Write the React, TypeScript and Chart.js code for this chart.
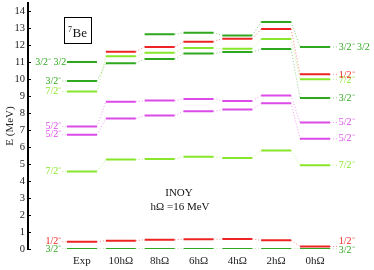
import React, { useEffect, useRef } from "react";
import { Chart, registerables } from "chart.js";

Chart.register(...registerables);

const columns = ["Exp", "10hΩ", "8hΩ", "6hΩ", "4hΩ", "2hΩ", "0hΩ"];
const yTicks = [0, 1, 2, 3, 4, 5, 6, 7, 8, 9, 10, 11, 12, 13, 14];

const ground32 = [0, 0, 0, 0, 0, 0, 0];
const first12 = [0.43, 0.49, 0.55, 0.57, 0.59, 0.51, 0.15];
const first72 = [4.57, 5.27, 5.3, 5.43, 5.36, 5.8, 4.94];
const first52 = [6.73, 7.68, 7.86, 8.11, 8.22, 8.59, 6.49];
const second52 = [7.21, 8.68, 8.74, 8.84, 8.72, 9.04, 7.45];
const second72 = [9.27, 11.35, 11.56, 11.84, 11.8, 12.37, 10.0];
const second32 = [9.9, 10.94, 11.19, 11.51, 11.6, 11.78, 8.9];
const second12 = [null, 11.62, 11.9, 12.21, 12.38, 12.96, 10.29];
const iso32 = [11.01, null, 12.65, 12.74, 12.58, 13.37, 11.9];

const DG = "#2fa81f";
const RD = "#ee2424";
const LG = "#88e62a";
const MG = "#dc4ae8";

const series = [
  { values: ground32, color: DG, left: "3/2⁻", right: "3/2⁻", rdy: 1, ldx: 0, lead: true },
  { values: first12, color: RD, left: "1/2⁻", right: "1/2⁻", rdy: -5, ldx: 0, lead: true },
  { values: first72, color: LG, left: "7/2⁻", right: "7/2⁻", rdy: 0, ldx: 0, lead: true },
  { values: first52, color: MG, left: "5/2⁻", right: "5/2⁻", rdy: 0, ldx: 0, lead: true },
  { values: second52, color: MG, left: "5/2⁻", right: "5/2⁻", rdy: 0, ldx: 0, lead: true },
  { values: second72, color: LG, left: "7/2⁻", right: "7/2⁻", rdy: 1, ldx: 0, lead: true },
  { values: second32, color: DG, left: "3/2⁻", right: "3/2⁻", rdy: 0, ldx: 0, lead: true },
  { values: second12, color: RD, left: "1/2⁻", right: "1/2⁻", rdy: 1, ldx: 0, lead: true },
  { values: iso32, color: DG, left: "3/2⁻ 3/2", right: "3/2⁻ 3/2", rdy: 0, ldx: 5, lead: false },
];

const HW = 0.386;
const SERIF = "'Liberation Serif', 'Times New Roman', serif";

function fade(hex: string, a: number) {
  const r = parseInt(hex.slice(1, 3), 16);
  const g = parseInt(hex.slice(3, 5), 16);
  const b = parseInt(hex.slice(5, 7), 16);
  return `rgba(${r},${g},${b},${a})`;
}

function buildDatasets() {
  const ds: any[] = [];
  series.forEach((s) => {
    const lv: any[] = [];
    const cn: any[] = [];
    s.values.forEach((v, i) => {
      if (v === null) return;
      lv.push({ x: i - HW, y: v }, { x: i + HW, y: v }, { x: i + 0.5, y: null });
      const n = s.values[i + 1];
      if (i + 1 < s.values.length && n !== null && n !== undefined) {
        cn.push({ x: i + HW, y: v }, { x: i + 1 - HW, y: n }, { x: i + 0.9, y: null });
      }
    });
    const v0 = s.values[0];
    if (v0 !== null && s.lead) cn.push({ x: -HW - 0.12, y: v0 }, { x: -HW, y: v0 }, { x: -0.3, y: null });
    const vl = s.values[s.values.length - 1];
    const li = s.values.length - 1;
    if (vl !== null) cn.push({ x: li + HW, y: vl }, { x: li + HW + 0.2, y: vl }, { x: li + 0.8, y: null });
    ds.push({
      data: cn,
      borderColor: fade(s.color, 0.55),
      borderWidth: 1,
      borderDash: [1, 2],
      pointRadius: 0,
      spanGaps: false,
      fill: false,
    });
    ds.push({
      data: lv,
      borderColor: s.color,
      borderWidth: 2,
      borderCapStyle: "butt",
      pointRadius: 0,
      spanGaps: false,
      fill: false,
    });
  });
  return ds;
}

const labelPlugin = {
  id: "levelLabels",
  afterDatasetsDraw(chart: any) {
    const { ctx, scales } = chart;
    const xs = scales.x;
    const ys = scales.y;
    ctx.save();
    ctx.strokeStyle = "#000";
    ctx.lineWidth = 1;
    const left = chart.chartArea.left;
    yTicks.forEach((t) => {
      const y = Math.round(ys.getPixelForValue(t)) + 0.5;
      ctx.beginPath();
      ctx.moveTo(left, y);
      ctx.lineTo(left + 3, y);
      ctx.stroke();
    });
    ctx.font = `10px ${SERIF}`;
    ctx.textBaseline = "middle";
    const last = columns.length - 1;
    series.forEach((s) => {
      ctx.fillStyle = s.color;
      const v0 = s.values[0];
      if (v0 !== null) {
        ctx.textAlign = "right";
        ctx.fillText(s.left, xs.getPixelForValue(-HW - 0.12) - 1 + s.ldx, ys.getPixelForValue(v0));
      }
      const vl = s.values[last];
      if (vl !== null) {
        ctx.textAlign = "left";
        ctx.fillText(s.right, xs.getPixelForValue(last + HW + 0.2) + 1, ys.getPixelForValue(vl) + s.rdy);
      }
    });
    ctx.strokeStyle = "#000";
    ctx.lineWidth = 1;
    ctx.strokeRect(64.5, 17.5, 27, 26);
    ctx.fillStyle = "#111";
    ctx.textAlign = "left";
    ctx.textBaseline = "alphabetic";
    ctx.font = `8px ${SERIF}`;
    ctx.fillText("7", 68, 32);
    ctx.font = `13px ${SERIF}`;
    ctx.fillText("Be", 72.5, 37);
    ctx.font = `11px ${SERIF}`;
    ctx.textAlign = "center";
    ctx.textBaseline = "middle";
    ctx.fillText("INOY", 179, 193);
    ctx.fillText("hΩ =16 MeV", 180, 207);
    ctx.restore();
  },
};

export default function App() {
  const ref = useRef<HTMLCanvasElement | null>(null);
  useEffect(() => {
    if (!ref.current) return;
    const chart = new Chart(ref.current, {
      type: "line",
      data: { datasets: buildDatasets() },
      options: {
        animation: false,
        responsive: false,
        devicePixelRatio: 1,
        layout: { padding: { top: 3, right: 0, left: 0, bottom: 0 } },
        plugins: { legend: { display: false }, tooltip: { enabled: false } },
        scales: {
          x: {
            type: "linear",
            min: -1.39,
            max: 7.52,
            grid: { display: false, drawTicks: false },
            border: { display: false },
            ticks: {
              color: "#222",
              font: { family: SERIF, size: 11 },
              padding: 6,
              autoSkip: false,
              maxRotation: 0,
              callback: (v: any) => columns[v as number] ?? "",
            },
            afterBuildTicks: (scale: any) => {
              scale.ticks = columns.map((_, i) => ({ value: i }));
            },
            afterFit: (scale: any) => {
              scale.height = 21;
              scale.paddingLeft = 0;
              scale.paddingRight = 0;
            },
          },
          y: {
            type: "linear",
            min: 0,
            max: 14.49,
            grid: { display: false, drawTicks: false },
            border: { display: true, color: "#000", width: 2 },
            ticks: {
              color: "#222",
              font: { family: SERIF, size: 10.5 },
              padding: 3,
            },
            title: {
              display: true,
              text: "E (MeV)",
              color: "#222",
              font: { family: SERIF, size: 11 },
              padding: { top: 4, bottom: 0 },
            },
            afterBuildTicks: (scale: any) => {
              scale.ticks = yTicks.map((v) => ({ value: v }));
            },
            afterFit: (scale: any) => {
              scale.width = 28;
              scale.paddingTop = 0;
              scale.paddingBottom = 0;
            },
          },
        },
      },
      plugins: [labelPlugin],
    });
    return () => chart.destroy();
  }, []);
  return (
    <div style={{ position: "fixed", left: 0, top: 0, width: 374, height: 270, background: "#fff" }}>
      <canvas ref={ref} width={374} height={270} />
    </div>
  );
}
